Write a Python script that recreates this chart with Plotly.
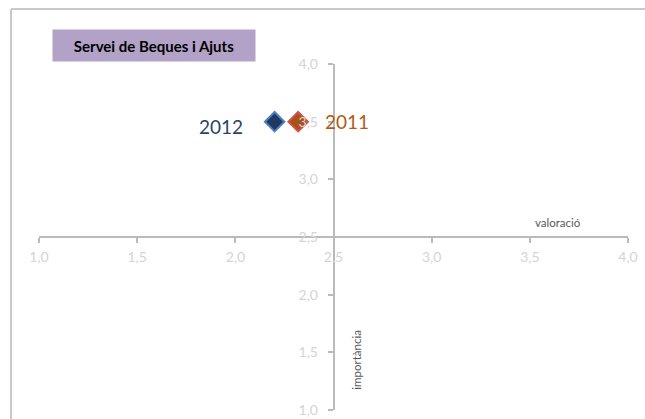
import plotly.graph_objects as go

# ---- data ----
years = ["2012", "2011"]
valoracio = [2.20, 2.32]
importancia = [3.50, 3.50]
tick_vals = [1.0, 1.5, 2.0, 2.5, 3.0, 3.5, 4.0]
tick_text = [f"{v:.1f}".replace(".", ",") for v in tick_vals]
title_text = "Servei de Beques i Ajuts"
x_title = "valoració"
y_title = "importància"

# ---- styles ----
fill_colors = ["#1F3864", "#A8521A"]
line_colors = ["#4F81BD", "#D0504D"]
text_colors = ["#2B4466", "#B35A14"]
label_anchor = ["right", "left"]
label_xshift = [-30, 25]
label_yshift = [-5, 0]
FONT = "Lato, Calibri, Carlito, sans-serif"
BORDER = dict(color="#C8C8C8", width=2)

fig = go.Figure()
for i, yr in enumerate(years):
    fig.add_trace(go.Scatter(
        x=[valoracio[i]], y=[importancia[i]], mode="markers", name=yr,
        marker=dict(symbol="diamond", size=15, color=fill_colors[i],
                    line=dict(color=line_colors[i], width=2)),
        showlegend=False, hoverinfo="x+y+name"))
    fig.add_annotation(x=valoracio[i], y=importancia[i], text=yr, showarrow=False,
                       xanchor=label_anchor[i], yanchor="middle",
                       xshift=label_xshift[i], yshift=label_yshift[i],
                       font=dict(family=FONT, size=19, color=text_colors[i]))

axis_common = dict(range=[1, 4], tickvals=tick_vals, ticktext=tick_text,
                   showgrid=False, zeroline=False, showline=True,
                   linecolor="#BABABA", linewidth=1.5, ticks="outside",
                   ticklen=5, tickwidth=1.5, tickcolor="#BABABA",
                   tickfont=dict(family=FONT, size=14, color="#D4D4D4"),
                   fixedrange=True, automargin=False)

fig.update_layout(
    width=645, height=419,
    margin=dict(l=39, r=17, t=64, b=9, autoexpand=False),
    paper_bgcolor="white", plot_bgcolor="white",
    xaxis=dict(**axis_common, anchor="free", position=0.5, ticklabelstandoff=2),
    yaxis=dict(**axis_common, anchor="free", position=0.5, ticklabelstandoff=7),
    shapes=[
        dict(type="line", xref="paper", yref="paper",
             x0=-0.0475, x1=1.029, y0=1.159, y1=1.159, line=BORDER, layer="below"),
        dict(type="line", xref="paper", yref="paper",
             x0=-0.0475, x1=-0.0475, y0=-0.03, y1=1.159, line=BORDER, layer="below"),
    ],
)

fig.add_annotation(xref="paper", yref="paper", x=0.1952, y=1.054,
                   text="<b>" + title_text + "</b>", showarrow=False,
                   xanchor="center", yanchor="middle", bgcolor="#B3A2C7",
                   width=198, height=27, borderpad=2,
                   font=dict(family=FONT, size=15, color="black"))
fig.add_annotation(xref="paper", yref="paper", x=0.881, y=0.542, text=x_title,
                   showarrow=False, xanchor="center", yanchor="middle",
                   font=dict(family=FONT, size=11.5, color="#595959"))
fig.add_annotation(xref="paper", yref="paper", x=0.54, y=0.1456, text=y_title,
                   showarrow=False, xanchor="center", yanchor="middle", textangle=-90,
                   font=dict(family=FONT, size=11.5, color="#595959"))

fig.write_html("out.html", config={"displayModeBar": False},
               post_script=("document.documentElement.style.overflow='hidden';"
                            "document.body.style.margin='0';"
                            "document.body.style.overflow='hidden';"))
